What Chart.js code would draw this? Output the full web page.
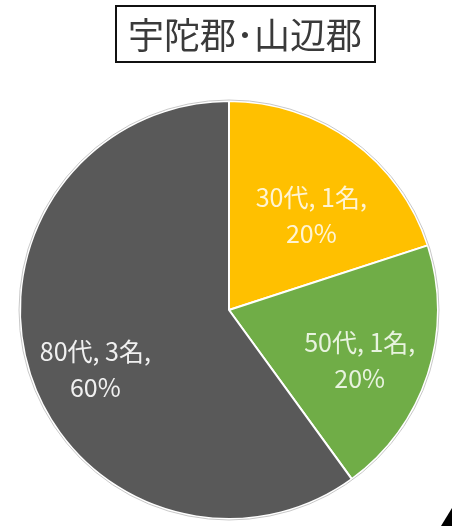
<!DOCTYPE html>
<html>
<head>
<meta charset="utf-8">
<script src="https://cdn.jsdelivr.net/npm/chart.js@4"></script>
<style>
  html, body { margin: 0; padding: 0; background: #fff; }
  #wrap { width: 452px; height: 526px; position: relative; }
</style>
</head>
<body>
<div id="wrap"><canvas id="myChart"></canvas></div>
<script>
var chartTitle = "宇陀郡･山辺郡";
var ageGroups = ["30代", "50代", "80代"];
var counts = [1, 1, 3];
var percents = ["20%", "20%", "60%"];
var sliceColors = ["#FFC000", "#70AD47", "#595959"];
var labelColors = ["#FFF4D4", "#E8F3DF", "#F0F0F0"];
// label placement: fraction of radius, angle nudge in degrees
var labelRadius = [0.6, 0.67, 0.7];
var labelNudge = [5, 3, -6];

// title box, outer rim, data labels
var decorPlugin = {
  id: "decor",
  afterDraw: function(chart) {
    var ctx = chart.ctx;
    ctx.save();
    ctx.font = "36px 'Noto Sans CJK JP'";
    ctx.fillStyle = "#3A3A3A";
    ctx.textAlign = "center";
    ctx.textBaseline = "middle";
    ctx.fillText(chartTitle, 245, 35);
    ctx.strokeStyle = "#111";
    ctx.lineWidth = 2;
    ctx.strokeRect(116, 6, 259, 56);

    var meta = chart.getDatasetMeta(0);
    var a0 = meta.data[0];
    ctx.strokeStyle = "#C8C8C8";
    ctx.lineWidth = 1;
    ctx.beginPath();
    ctx.arc(a0.x, a0.y, a0.outerRadius + 1, 0, Math.PI * 2);
    ctx.stroke();

    ctx.font = "25px 'Noto Sans CJK JP'";
    meta.data.forEach(function(arc, i) {
      var mid = (arc.startAngle + arc.endAngle) / 2 + labelNudge[i] * Math.PI / 180;
      var r = arc.outerRadius * labelRadius[i];
      var x = arc.x + Math.cos(mid) * r;
      var y = arc.y + Math.sin(mid) * r;
      ctx.fillStyle = labelColors[i];
      ctx.fillText(ageGroups[i] + ", " + counts[i] + "名,", x, y - 18);
      ctx.fillText(percents[i], x, y + 18);
    });

    // cropped black shape at bottom right corner
    ctx.fillStyle = "#000";
    ctx.beginPath();
    ctx.moveTo(452, 508);
    ctx.lineTo(452, 526);
    ctx.lineTo(441, 526);
    ctx.closePath();
    ctx.fill();
    ctx.restore();
  }
};

var ctx = document.getElementById("myChart").getContext("2d");
var chart = new Chart(ctx, {
  type: "pie",
  data: {
    labels: ageGroups,
    datasets: [
      {
        data: counts,
        backgroundColor: sliceColors,
        borderColor: "#FFFFFF",
        borderWidth: 2
      }
    ]
  },
  options: {
    responsive: true,
    maintainAspectRatio: false,
    animation: false,
    layout: { padding: { top: 100, left: 19, right: 13, bottom: 6 } },
    plugins: {
      legend: { display: false },
      tooltip: { enabled: false },
      title: { display: false }
    }
  },
  plugins: [decorPlugin]
});
</script>
</body>
</html>
